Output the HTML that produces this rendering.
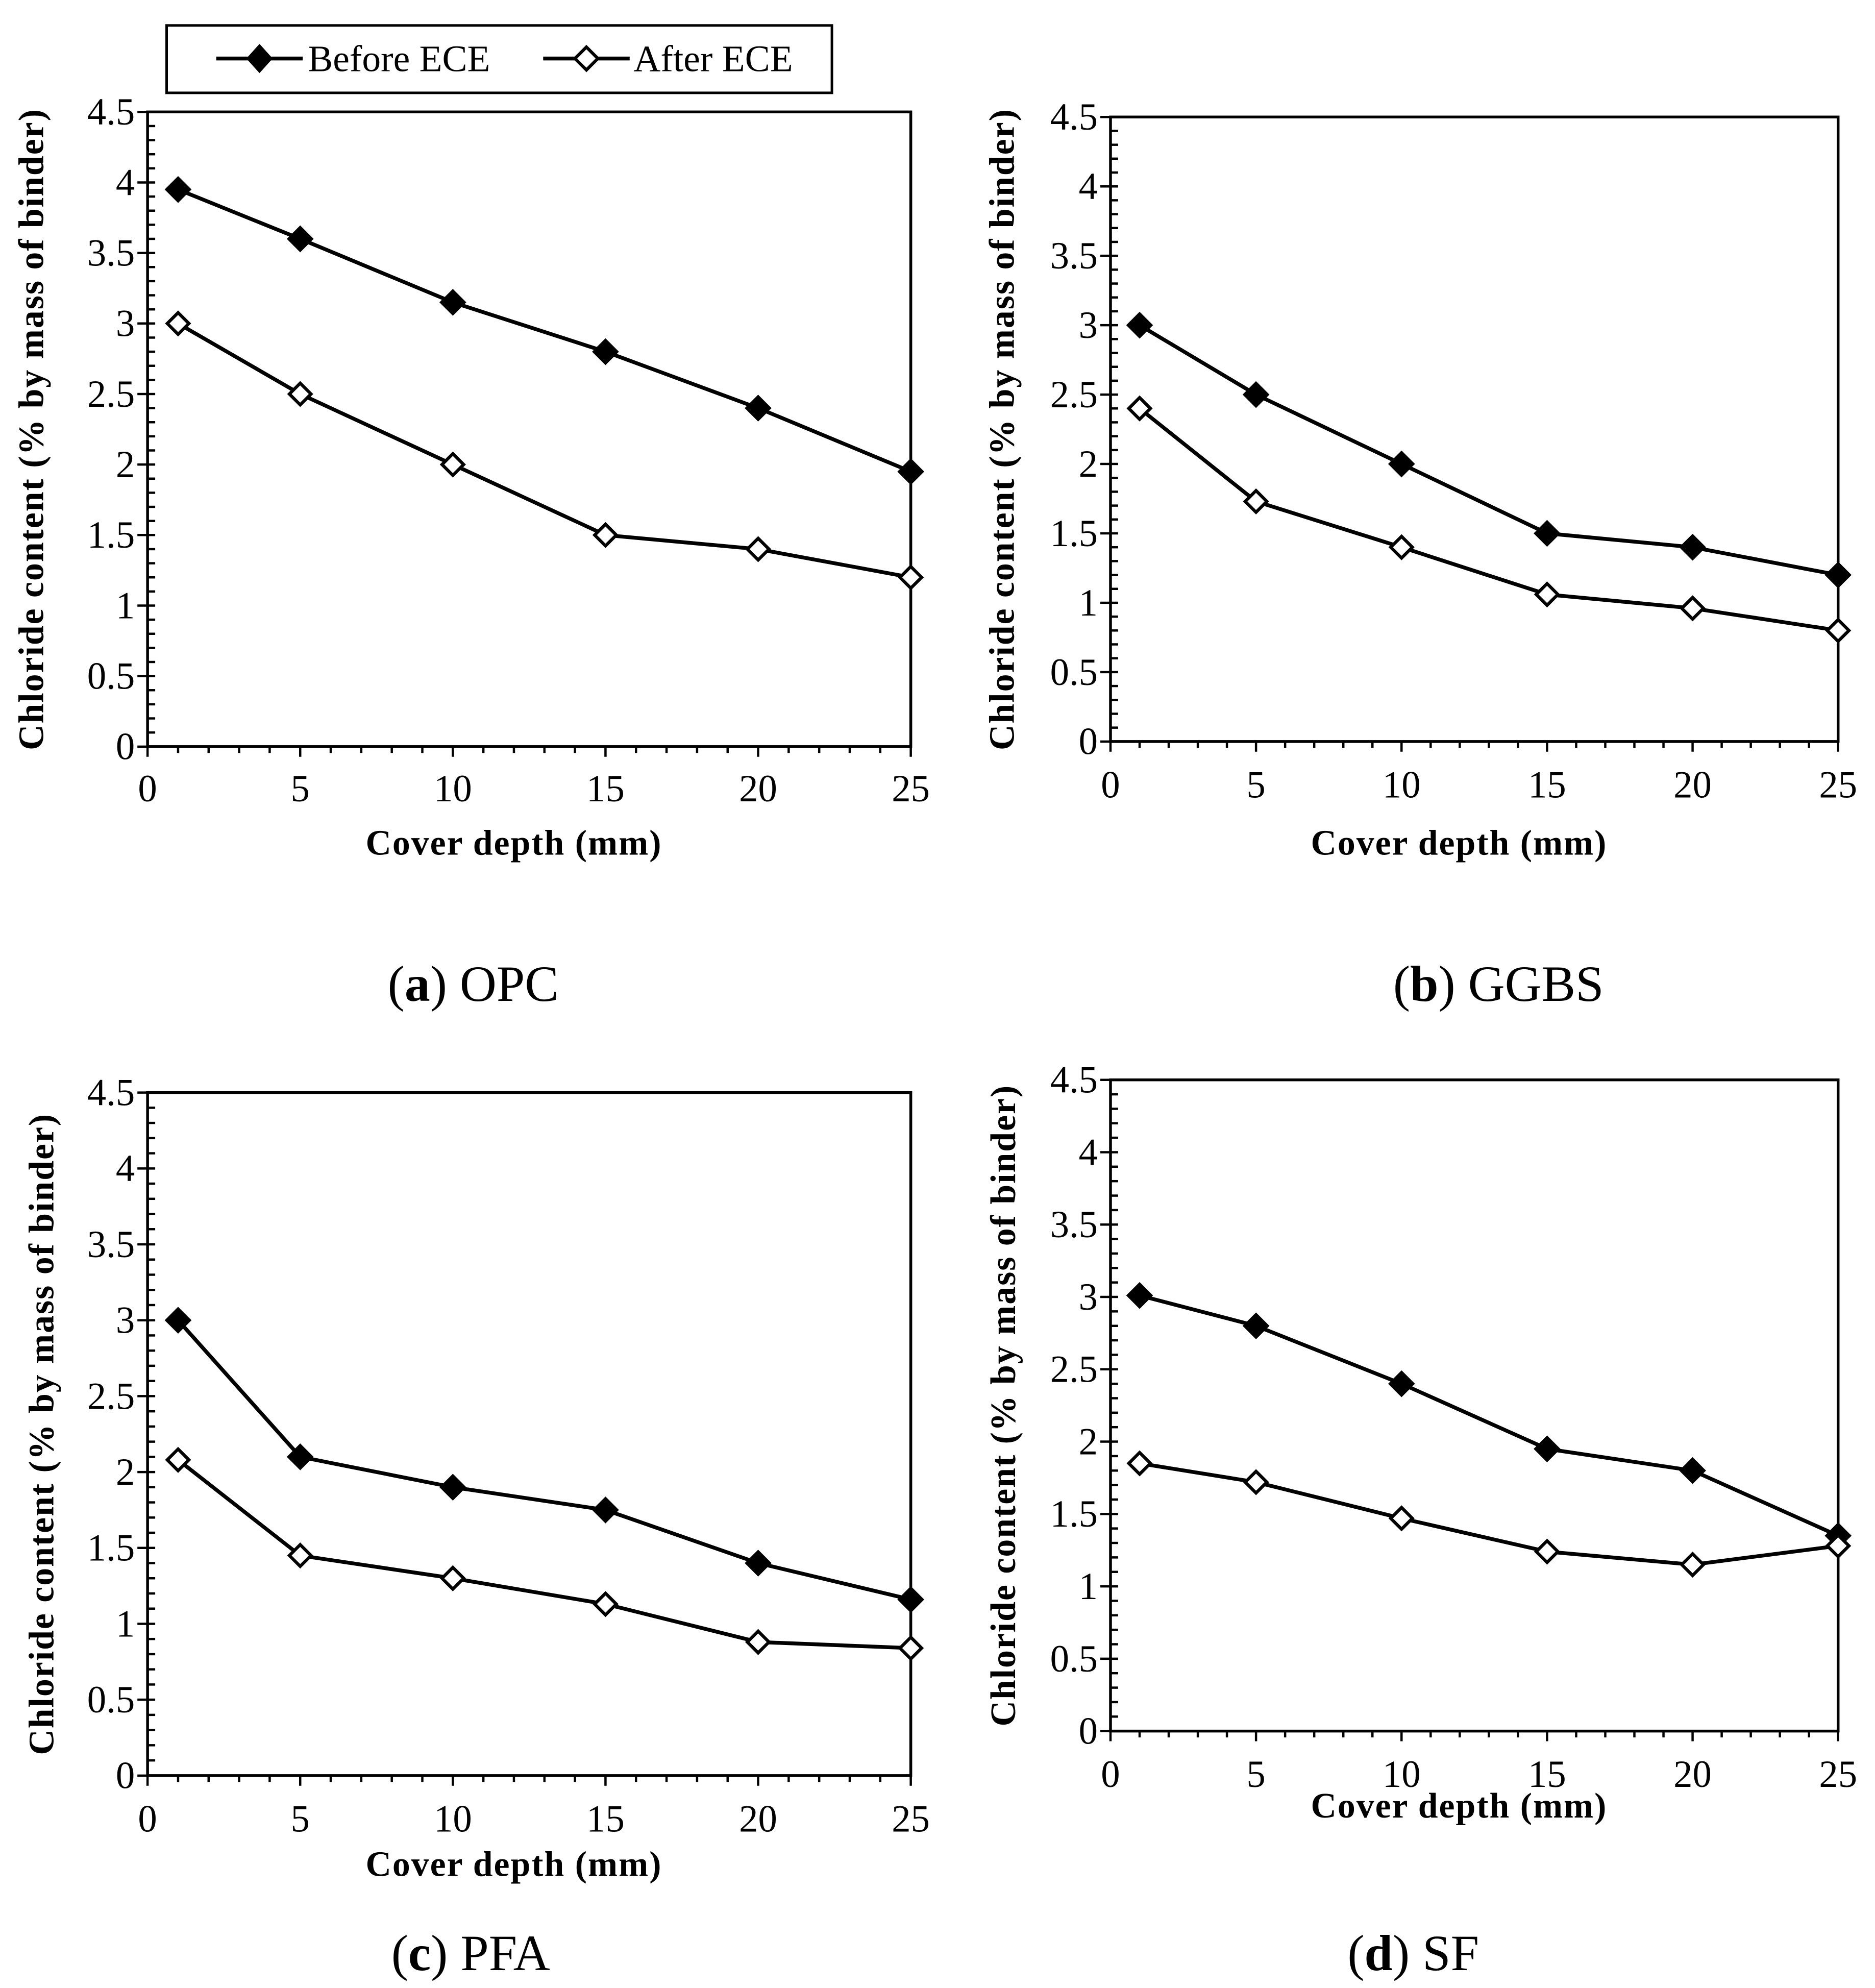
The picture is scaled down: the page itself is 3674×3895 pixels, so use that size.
<!DOCTYPE html>
<html><head><meta charset="utf-8">
<style>
html,body{margin:0;padding:0;background:#fff;}
svg{display:block;}
text{font-family:"Liberation Serif",serif;fill:#000;}
</style></head>
<body>
<svg id="fig" width="3674" height="3895" viewBox="0 0 1474 1563" preserveAspectRatio="none" xmlns="http://www.w3.org/2000/svg">
<rect width="1474" height="1563" fill="#fff"/>
<g>
  <rect x="131" y="20" width="523" height="53" fill="#fff" stroke="#000" stroke-width="2"/>
  <line x1="170" y1="46" x2="238" y2="46" stroke="#000" stroke-width="3"/>
  <path d="M204 36 L213 46 L204 56 L195 46 Z" fill="#000" stroke="#000" stroke-width="2"/>
  <text x="242" y="56" font-size="29.5">Before ECE</text>
  <line x1="427" y1="46" x2="495" y2="46" stroke="#000" stroke-width="3"/>
  <path d="M461 37 L470 46 L461 55 L452 46 Z" fill="#fff" stroke="#000" stroke-width="2.5"/>
  <text x="498" y="56" font-size="29.5">After ECE</text>
</g>
<g id="charts"></g>
</svg>
<script>
const xValues = [1, 5, 10, 15, 20, 25];
const xTicks = [0, 5, 10, 15, 20, 25];
const yTicks = [0, 0.5, 1, 1.5, 2, 2.5, 3, 3.5, 4, 4.5];
const opcBefore = [3.95, 3.6, 3.15, 2.8, 2.4, 1.95];
const opcAfter = [3.0, 2.5, 2.0, 1.5, 1.4, 1.2];
const ggbsBefore = [3.0, 2.5, 2.0, 1.5, 1.4, 1.2];
const ggbsAfter = [2.4, 1.73, 1.4, 1.06, 0.96, 0.8];
const pfaBefore = [3.0, 2.1, 1.9, 1.75, 1.4, 1.16];
const pfaAfter = [2.08, 1.45, 1.3, 1.13, 0.88, 0.84];
const sfBefore = [3.01, 2.8, 2.4, 1.95, 1.8, 1.35];
const sfAfter = [1.85, 1.72, 1.47, 1.24, 1.15, 1.28];

const NS = "http://www.w3.org/2000/svg";
const root = document.getElementById('charts');
function mk(tag, attrs, parent){const e=document.createElementNS(NS,tag);for(const k in attrs)e.setAttribute(k,attrs[k]);parent.appendChild(e);return e;}

const panels = [
 {id:'opc', letter:'a', name:'OPC', L:116,R:716,T:88,B:587, xl:620, xt:663, yt:25, cx:372, cy:773, before:opcBefore, after:opcAfter},
 {id:'ggbs', letter:'b', name:'GGBS', L:873,R:1445,T:92,B:583, xl:617, xt:663, yt:788, cx:1178, cy:773, before:ggbsBefore, after:ggbsAfter},
 {id:'pfa', letter:'c', name:'PFA', L:116,R:716,T:859,B:1396, xl:1430, xt:1466, yt:33, cx:370, cy:1535, before:pfaBefore, after:pfaAfter},
 {id:'sf', letter:'d', name:'SF', L:873,R:1445,T:849,B:1361, xl:1395, xt:1420, yt:789, cx:1111, cy:1535, before:sfBefore, after:sfAfter}
];

panels.forEach(p=>{
  const g = mk('g',{},root);
  
  
  const xs = v => p.L + (v-0)/25*(p.R-p.L);
  const ys = v => p.B - v/4.5*(p.B-p.T);
  const frame = mk('rect',{x:p.L,y:p.T,width:p.R-p.L,height:p.B-p.T,fill:'none',stroke:'#000','stroke-width':2.2},g);
  
  
  for(let i=1;i<45;i++){ if(i%5===0) continue; mk('line',{x1:p.L,x2:p.L+6,y1:ys(i/10),y2:ys(i/10),stroke:'#000','stroke-width':1.8},g); }
  for(let i=1;i<25;i++){ if(i%5===0) continue; mk('line',{x1:xs(i),x2:xs(i),y1:p.B,y2:p.B+5,stroke:'#000','stroke-width':1.8},g); }
  yTicks.forEach(v=>{
    mk('line',{x1:p.L-8,x2:p.L+6,y1:ys(v),y2:ys(v),stroke:'#000','stroke-width':1.8},g);
    const t = mk('text',{x:p.L-10,y:ys(v)+10,'text-anchor':'end','font-size':30},g);
    t.textContent = v;
    
    
  });
  xTicks.forEach(v=>{
    mk('line',{x1:xs(v),x2:xs(v),y1:p.B-0,y2:p.B+8,stroke:'#000','stroke-width':1.8},g);
    const t = mk('text',{x:xs(v),y:p.xl+10,'text-anchor':'middle','font-size':30},g);
    t.textContent = v;
    
    
  });
  const xt = mk('text',{x:(p.L+p.R)/2-12,y:p.xt+9,'text-anchor':'middle','font-size':28,'font-weight':'bold','letter-spacing':'0.8'},g);
  xt.textContent = 'Cover depth (mm)';
  
  
  const ymid = (p.T+p.B)/2;
  const yt = mk('text',{x:p.yt+9,y:ymid,'text-anchor':'middle','font-size':28,'font-weight':'bold','letter-spacing':'0.8',transform:'rotate(-90 '+(p.yt+9)+' '+ymid+')'},g);
  yt.textContent = 'Chloride content (% by mass of binder)';
  
  
  const cap = mk('text',{x:p.cx,y:p.cy+14,'text-anchor':'middle','font-size':40},g);
  const b = mk('tspan',{'font-weight':'bold'},cap);
  cap.insertBefore(document.createTextNode('('),b);
  b.textContent = p.letter;
  cap.appendChild(document.createTextNode(') '+p.name));
  
  
  [['before',p.before,'#000'],['after',p.after,'#fff']].forEach(([nm,arr,fill])=>{
    const pts = arr.map((v,i)=>xs(xValues[i])+','+ys(v)).join(' ');
    const line = mk('polyline',{points:pts,fill:'none',stroke:'#000','stroke-width':3,'stroke-linejoin':'round'},g);
    
    
    arr.forEach((v,i)=>{
      const x=xs(xValues[i]), y=ys(v), r= nm==='before'?9.5:8.5;
      const m = mk('path',{d:`M${x} ${y-r} L${x+r} ${y} L${x} ${y+r} L${x-r} ${y} Z`,fill:fill,stroke:'#000','stroke-width':nm==='before'?1.5:2.5},g);
      
      
    });
  });
});
</script>
</body></html>
